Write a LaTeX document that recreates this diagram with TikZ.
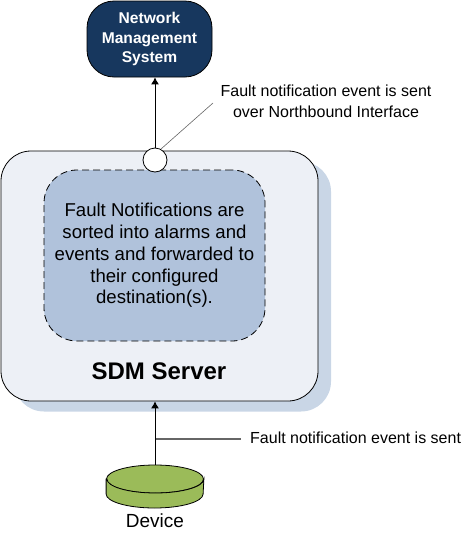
\documentclass[tikz,border=0pt]{standalone}
\usepackage{fontspec}
\setmainfont{Liberation Sans}
\usepackage{tikz}
\usetikzlibrary{positioning, shapes.geometric, arrows.meta}
\definecolor{navybox}{HTML}{17375E}
\definecolor{serverfill}{HTML}{EDF0F6}
\definecolor{shadowfill}{HTML}{C9D6E6}
\definecolor{innerfill}{HTML}{B0C2DB}
\definecolor{devicefill}{HTML}{9BBB59}
\definecolor{calloutline}{HTML}{666666}
\tikzset{
    flowarrow/.style={draw=black, line width=0.9pt, -{Latex[length=7pt,width=8pt]}},
    callout/.style={font=\fontsize{16}{21}\selectfont, align=center, inner sep=0pt}
}

\begin{document}
\begin{tikzpicture}[x=1pt, y=-1pt]
    \useasboundingbox (0,0) rectangle (461,533);

    % Server with its shadow
    \node[fill=shadowfill, rounded corners=30pt, minimum width=317pt, minimum height=250pt, inner sep=0pt] (shadow) at (172.5,286.5) {};
    \node[draw=black, line width=0.8pt, fill=serverfill, rounded corners=30pt, minimum width=317pt, minimum height=250pt, inner sep=0pt] (server) at (159.5,276) {};
    \node[font=\fontsize{24}{28}\bfseries\selectfont, inner sep=0pt] (serverlabel) at (159,371) {SDM Server};

    % Sorting area inside the server
    \node[draw=black, dash pattern=on 7pt off 4pt, line width=0.8pt, fill=innerfill, rounded corners=33pt, minimum width=221pt, minimum height=171pt, inner sep=0pt, align=center, font=\fontsize{18.6}{21.7}\selectfont] (sorting) at (154.5,255.5) {Fault Notifications are\\sorted into alarms and\\events and forwarded to\\their configured\\destination(s).};

    % Management system
    \node[draw=black, line width=0.8pt, fill=navybox, text=white, rounded corners=27pt, minimum width=125pt, minimum height=76pt, inner sep=0pt, align=center, font=\fontsize{15.6}{19.5}\bfseries\selectfont] (nms) at (149.5,39) {Network\\Management\\System};

    % Northbound port
    \node[draw=black, line width=0.8pt, fill=white, circle, minimum size=24pt, inner sep=0pt] (port) at (155,160) {};

    % Device
    \node[draw=black, line width=0.8pt, fill=devicefill, ellipse, minimum width=97pt, minimum height=28pt, inner sep=0pt] (devicetop) at (155,479) {};
    \draw[line width=0.8pt, fill=devicefill] (devicetop.west) -- ++(0,15) arc[start angle=180, end angle=0, x radius=48.5, y radius=14] -- (devicetop.east) arc[start angle=0, end angle=180, x radius=48.5, y radius=14] -- cycle;
    \node[font=\fontsize{19}{22}\selectfont, inner sep=0pt] (devicelabel) at (155,521) {Device};

    % Callout texts
    \node[callout] (northtext) at (326,101.5) {Fault notification event is sent\\over Northbound Interface};
    \node[callout, anchor=west] (southtext) at (250,438) {Fault notification event is sent};

    % Callout leaders
    \coordinate (northend) at (213,103);
    \coordinate (southstart) at (155,439);
    \coordinate (southend) at (241,439);
    \draw[calloutline, line width=0.6pt] (port) ++(6,-11) -- (northend);
    \draw[calloutline, line width=1.2pt] (southstart) -- (southend);

    % Arrows
    \draw[flowarrow] (port) -- (port |- nms.south);
    \draw[flowarrow] (devicetop.north) -- (devicetop.north |- server.south);
\end{tikzpicture}
\end{document}
